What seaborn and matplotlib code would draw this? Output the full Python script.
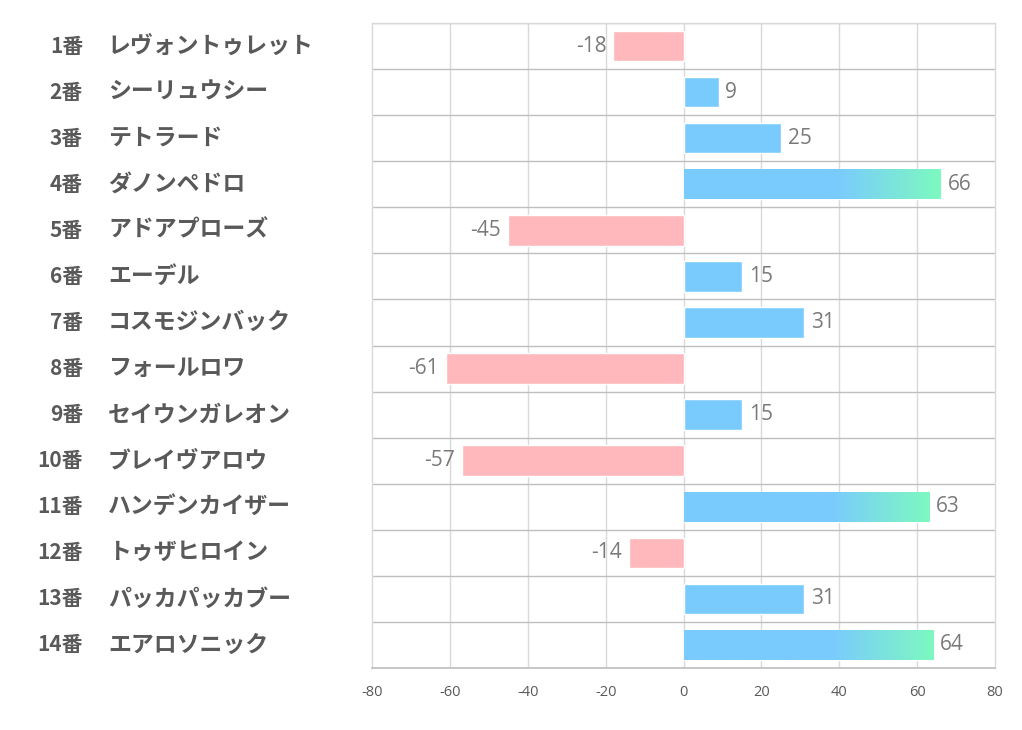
import numpy as np
import pandas as pd
import matplotlib
matplotlib.use("Agg")
import matplotlib.pyplot as plt
import seaborn as sns
from matplotlib.colors import LinearSegmentedColormap
import matplotlib.transforms as mtrans

numbers = ["1番", "2番", "3番", "4番", "5番", "6番", "7番", "8番", "9番", "10番",
           "11番", "12番", "13番", "14番"]
names = ["レヴォントゥレット", "シーリュウシー", "テトラード", "ダノンペドロ", "アドアプローズ",
         "エーデル", "コスモジンバック", "フォールロワ", "セイウンガレオン", "ブレイヴアロウ",
         "ハンデンカイザー", "トゥザヒロイン", "パッカパッカブー", "エアロソニック"]
values = [-18, 9, 25, 66, -45, 15, 31, -61, 15, -57, 63, -14, 31, 64]
xticks = [-80, -60, -40, -20, 0, 20, 40, 60, 80]

sns.set_theme(style="white")
plt.rcParams['font.family'] = ['Noto Sans CJK JP', 'DejaVu Sans']

BLUE = "#7ACBFD"
GREEN = "#7DF9C0"
PINK = "#FFB9BC"
TXT = "#595959"

df = pd.DataFrame({"label": numbers, "name": names, "value": values})
df["sign"] = np.where(df["value"] >= 0, "pos", "neg")

fig = plt.figure(figsize=(10.22, 7.30), dpi=100)
ax = fig.add_axes([372/1022, 1-668/730, (995-372)/1022, (668-23)/730])

sns.barplot(data=df, x="value", y="label", hue="sign", orient="h",
            palette={"pos": BLUE, "neg": PINK}, width=0.66, legend=False,
            dodge=False, ax=ax, saturation=1, zorder=3)

# gradient for the long bars
cmap = LinearSegmentedColormap.from_list("bg", [(0, BLUE), (0.6, BLUE), (1, GREEN)])
grad = np.linspace(0, 1, 256).reshape(1, -1)
for p in ax.patches:
    w = p.get_width()
    if w >= 60:
        x0, y0 = p.get_x(), p.get_y()
        h = p.get_height()
        im = ax.imshow(grad, cmap=cmap, aspect="auto",
                       extent=[x0, x0 + w, y0 + h, y0], zorder=3.5)
        im.set_clip_path(p)

ax.set_xlim(-80, 80)
ax.set_ylim(len(values) - 0.5, -0.5)
ax.set_xticks(xticks)
ax.set_xticklabels([str(t) for t in xticks], fontsize=10.5, color=TXT,
                   family=['Open Sans', 'DejaVu Sans'])
ax.tick_params(axis="x", length=0, pad=12)
ax.set_yticks([])
ax.set_xlabel("")
ax.set_ylabel("")

for t in xticks[1:-1]:
    ax.axvline(t, color="#D9D9D9", lw=1, zorder=1)
for k in range(len(values) + 1):
    ax.axhline(k - 0.5, color="#BFBFBF", lw=1, zorder=2)

for side in ["left", "right", "top"]:
    ax.spines[side].set_color("#D9D9D9")
    ax.spines[side].set_linewidth(1)
ax.spines["bottom"].set_color("#BFBFBF")
ax.spines["bottom"].set_linewidth(1.2)

# value labels
for i, v in enumerate(values):
    if v >= 0:
        ax.annotate(str(v), (v, i), xytext=(5, 0), textcoords="offset points",
                    ha="left", va="center", fontsize=15, color="#7A7A7A",
                    family=['Open Sans', 'DejaVu Sans'])
    else:
        ax.annotate(str(v), (v, i), xytext=(-5, 0), textcoords="offset points",
                    ha="right", va="center", fontsize=15, color="#7A7A7A",
                    family=['Open Sans', 'DejaVu Sans'])

# category labels
tr = mtrans.blended_transform_factory(fig.transFigure, ax.transData)
for i, (n, nm) in enumerate(zip(numbers, names)):
    ax.text(83/1022, i, n, transform=tr, ha="right", va="center", fontsize=15,
            fontweight="bold", color=TXT, clip_on=False)
    ax.text(108/1022, i, nm, transform=tr, ha="left", va="center", fontsize=16.5,
            fontweight="bold", color=TXT, clip_on=False)

fig.savefig("out.png", dpi=100, facecolor="white")
